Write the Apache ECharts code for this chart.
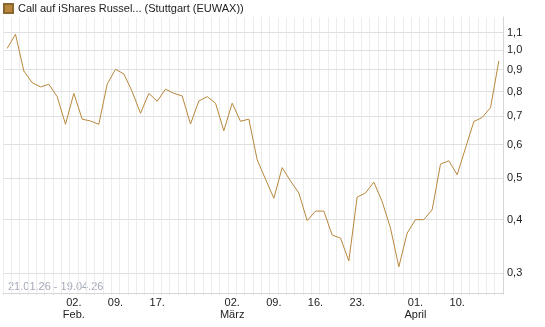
<html>
<head>
    <meta charset="utf-8">
    <title></title>
    <script src="https://cdn.jsdelivr.net/npm/echarts@6.0.0/dist/echarts.min.js" type="text/javascript"></script>
    <style>
        body { margin: 0; background: #fff; }
    </style>
</head>
<body>
    <div id="main" style="width: 545px; height: 327px"></div>
    <script>
        // trading days, 21.01.26 - 17.04.26 (no 16.02., Karfreitag, Ostermontag)
        var days = ['21.01', '22.01', '23.01', '26.01', '27.01', '28.01', '29.01', '30.01',
            '02.02', '03.02', '04.02', '05.02', '06.02', '09.02', '10.02', '11.02', '12.02', '13.02',
            '17.02', '18.02', '19.02', '20.02', '23.02', '24.02', '25.02', '26.02', '27.02',
            '02.03', '03.03', '04.03', '05.03', '06.03', '09.03', '10.03', '11.03', '12.03', '13.03',
            '16.03', '17.03', '18.03', '19.03', '20.03', '23.03', '24.03', '25.03', '26.03', '27.03',
            '30.03', '31.03', '01.04', '02.04', '07.04', '08.04', '09.04', '10.04',
            '13.04', '14.04', '15.04', '16.04', '17.04'];

        var prices = [1.01, 1.09, 0.894, 0.839, 0.82, 0.832, 0.778, 0.67, 0.792, 0.689,
            0.682, 0.67, 0.832, 0.902, 0.88, 0.80, 0.711, 0.792, 0.759, 0.81,
            0.792, 0.781, 0.671, 0.76, 0.778, 0.751, 0.647, 0.751, 0.681, 0.689,
            0.553, 0.498, 0.449, 0.530, 0.493, 0.462, 0.398, 0.419, 0.419, 0.368,
            0.362, 0.320, 0.452, 0.462, 0.490, 0.441, 0.382, 0.31, 0.372, 0.40,
            0.40, 0.422, 0.540, 0.550, 0.510, 0.589, 0.680, 0.695, 0.733, 0.944];

        var tickDays = ['02.02', '09.02', '17.02', '02.03', '09.03', '16.03', '23.03', '01.04', '10.04'];
        var tickText = ['02.\nFeb.', '09.', '17.', '02.\nMärz', '09.', '16.', '23.', '01.\nApril', '10.'];

        var yTicks = [0.3, 0.4, 0.5, 0.6, 0.7, 0.8, 0.9, 1.0, 1.1];

        var seriesName = 'Call auf iShares Russel... (Stuttgart (EUWAX))';
        var font = "'Liberation Sans', Arial, sans-serif";

        var myChart = echarts.init(document.getElementById('main'));

        var gridLines = [];
        for (var i = 0; i < yTicks.length; i++) {
            gridLines.push({ yAxis: yTicks[i] });
        }

        var option = {
            animation: false,
            textStyle: { fontFamily: font },
            legend: {
                left: 0,
                top: 0,
                padding: [3, 3, 3, 3],
                icon: 'rect',
                itemWidth: 9,
                itemHeight: 9,
                itemGap: 4,
                textStyle: { fontSize: 11, color: '#222', fontFamily: font },
                data: [seriesName]
            },
            grid: {
                left: 3,
                right: 42,
                top: 17,
                bottom: 34
            },
            graphic: [{
                type: 'text',
                left: 8,
                top: 281,
                style: {
                    text: '21.01.26 - 19.04.26',
                    fill: '#a3a9b8',
                    font: '11px ' + font
                }
            }],
            xAxis: {
                type: 'category',
                data: days,
                boundaryGap: true,
                axisLine: { lineStyle: { color: '#d6d6d6' } },
                axisTick: { show: true, interval: 0, length: 2, lineStyle: { color: '#e0e0e0' } },
                splitLine: { show: true, interval: 0, lineStyle: { color: '#ececec', width: 1 } },
                axisLabel: {
                    interval: 0,
                    margin: 4,
                    fontSize: 11,
                    lineHeight: 12,
                    color: '#222',
                    formatter: function (v) {
                        var k = tickDays.indexOf(v);
                        return k >= 0 ? tickText[k] : '';
                    }
                }
            },
            yAxis: {
                type: 'log',
                logBase: 10,
                position: 'right',
                min: 0.269,
                max: 1.197,
                axisLine: { show: true, lineStyle: { color: '#d6d6d6' } },
                axisTick: { show: false },
                splitLine: { show: false },
                axisLabel: { show: false }
            },
            series: [{
                name: 'grid',
                type: 'line',
                data: [],
                z: 1,
                silent: true,
                markLine: {
                    z: 1,
                    silent: true,
                    symbol: 'none',
                    animation: false,
                    lineStyle: { color: '#e0e0e0', type: 'solid', width: 1 },
                    label: {
                        show: true,
                        position: 'end',
                        distance: 4,
                        fontSize: 11,
                        color: '#222',
                        fontFamily: font,
                        formatter: function (p) {
                            return p.value.toFixed(1).replace('.', ',');
                        }
                    },
                    emphasis: { disabled: true },
                    data: gridLines
                }
            }, {
                name: seriesName,
                type: 'line',
                data: prices,
                z: 3,
                symbol: 'none',
                color: '#b8873c',
                lineStyle: { color: '#b8873c', width: 1 },
                itemStyle: { color: '#b8873c', borderColor: '#8a6630', borderWidth: 1 }
            }]
        };
        myChart.setOption(option);
    </script>
</body>
</html>
